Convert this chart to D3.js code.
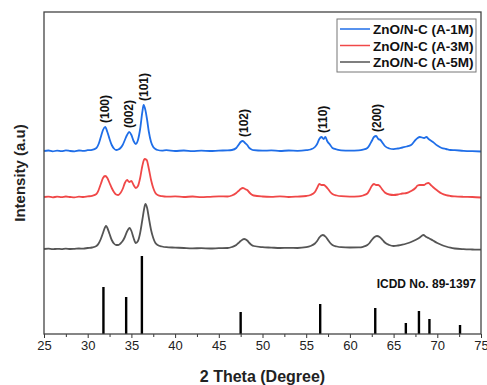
<!DOCTYPE html>
<html>
<head>
<meta charset="utf-8">
<script src="https://cdn.jsdelivr.net/npm/d3@7"></script>
<style>
  body { margin: 0; background: #fff; }
  svg { display: block; font-family: Arial, "Liberation Sans", sans-serif; }
</style>
</head>
<body>
<div id="chart"></div>
<script>
// XRD patterns, [2θ, intensity (a.u., stacked)]
const seriesNames = ["ZnO/N-C (A-1M)", "ZnO/N-C (A-3M)", "ZnO/N-C (A-5M)"];
const seriesColors = ["#1f6ee8", "#f04848", "#555555"];

const a1m = [[25,183],[25.5,183.5],[26,182.6],[26.5,183.4],[27,182.8],[27.5,183.6],[28,183],[28.5,182.7],[29,183.5],[29.5,183.1],[30,183.8],[30.5,184.2],[31,186],[31.25,190],[31.5,197],[31.75,204],[32,207],[32.25,202],[32.5,195],[32.75,189],[33,185.5],[33.25,184],[33.5,184.5],[33.75,186],[34,189],[34.25,194],[34.5,199],[34.75,202],[35,199],[35.25,193],[35.5,190],[35.75,194],[36,205],[36.25,222],[36.4,229],[36.6,224],[36.8,214],[37,202],[37.25,192],[37.5,187],[37.75,185],[38,184],[38.5,183.4],[39,183.8],[40,183],[41,183.5],[42,182.8],[43,183.3],[44,183],[45,183.4],[46,183.6],[46.5,184],[47,186],[47.25,189],[47.5,192],[47.75,193],[48,191],[48.25,189],[48.5,186],[48.75,184.5],[49,183.8],[50,183.3],[51,183.6],[52,183],[53,183.5],[54,183.2],[55,183.8],[55.5,184.5],[56,187],[56.25,190],[56.5,195],[56.75,197],[57,195],[57.2,197],[57.4,193],[57.75,189],[58,186],[58.5,184.5],[59,183.6],[60,183.4],[61,183.6],[61.5,184.3],[62,186],[62.25,189],[62.5,193],[62.75,197],[63,198],[63.25,195],[63.5,194],[63.75,191],[64,188],[64.5,185.5],[65,184.8],[65.5,185.5],[66,186.5],[66.5,187.5],[67,189],[67.5,194],[67.75,196],[68,197],[68.5,196],[68.75,197],[69,195],[69.5,192],[70,188.5],[70.5,186],[71,185],[71.5,184],[72,183.8],[73,183.2],[74,182.8],[75,182.5]];

const a3m = [[25,137],[25.5,137.4],[26,136.7],[26.5,137.3],[27,136.8],[27.5,137.5],[28,137],[28.5,136.6],[29,137.4],[29.5,137],[30,137.6],[30.5,138.2],[31,140],[31.25,144],[31.5,150],[31.75,156],[32,158],[32.25,156],[32.5,151],[32.75,146],[33,142],[33.25,139.5],[33.5,139],[33.75,141],[34,145],[34.25,151],[34.5,154],[34.75,152],[35,153],[35.25,149],[35.5,146],[35.75,148],[36,156],[36.25,168],[36.5,175],[36.75,174],[37,165],[37.25,154],[37.5,146],[37.75,141],[38,139],[38.5,137.8],[39,137.3],[40,137.6],[41,137],[42,137.5],[43,136.8],[44,137.2],[45,137.6],[46,137.5],[46.5,138.5],[47,141],[47.25,143],[47.5,145],[47.75,146],[48,145],[48.25,144],[48.5,141.5],[48.75,139.5],[49,138.5],[50,137.5],[51,137.2],[52,137.6],[53,137],[54,137.4],[55,138],[55.5,139],[56,142],[56.25,146],[56.5,150],[56.75,149],[57,149],[57.25,147.5],[57.5,145],[57.75,142],[58,140],[58.5,138.5],[59,137.8],[60,137.4],[61,137.6],[61.5,138.5],[62,140.5],[62.25,144],[62.5,148],[62.75,150],[63,149],[63.25,149],[63.5,147],[63.75,144],[64,141.5],[64.5,139.5],[65,139],[65.5,139.5],[66,140.5],[66.5,141],[67,143],[67.5,146],[67.75,148.5],[68,149],[68.5,149],[68.75,150.5],[69,151],[69.25,149],[69.5,147],[70,143.5],[70.5,140.5],[71,138.8],[71.5,138],[72,137.6],[73,137.2],[74,137],[75,136.5]];

const a5m = [[25,85],[25.5,85.3],[26,84.8],[26.5,85.2],[27,84.9],[27.5,85.4],[28,85],[28.5,85.2],[29,85.5],[29.5,85.4],[30,86],[30.5,86.5],[31,88],[31.25,90.5],[31.5,95],[31.75,101],[32,107],[32.1,108],[32.25,106],[32.5,100],[32.75,94],[33,90.5],[33.25,89],[33.5,89],[33.75,90.5],[34,93],[34.25,97],[34.5,102.5],[34.8,106],[35,103],[35.25,96],[35.5,91],[35.75,93],[36,101],[36.25,114],[36.5,127],[36.6,130],[36.8,126],[37,116],[37.25,104],[37.5,96],[37.75,91],[38,89],[38.5,87.5],[39,86.8],[40,86.4],[41,86],[42,85.7],[43,85.8],[44,85.5],[45,85.8],[46,86],[46.5,87],[47,89],[47.25,91],[47.5,93],[47.9,95],[48.25,93.5],[48.5,91],[48.75,89],[49,88],[50,86.8],[51,86.4],[52,86],[53,86.2],[54,86],[55,86.8],[55.5,88],[56,90.5],[56.25,93],[56.5,96.5],[56.9,99],[57.25,97],[57.5,94],[57.75,91],[58,89],[58.5,87.5],[59,86.8],[60,86.5],[61,86.6],[61.5,87.2],[62,89],[62.25,91],[62.5,94],[62.75,96.5],[63.1,98],[63.4,97],[63.75,94],[64,91.5],[64.5,89],[65,88],[65.5,88.5],[66,89.3],[66.5,90.5],[67,92],[67.5,94],[68,96.5],[68.4,99],[68.75,97],[69,96],[69.5,93.5],[70,91],[70.5,89],[71,87.5],[71.5,86.3],[72,85.5],[73,84.8],[74,84.5],[75,84.3]];

// ICDD 89-1397 reference lines
const refPos = [31.8, 34.4, 36.2, 47.5, 56.6, 62.9, 66.4, 67.9, 69.1, 72.6];
const refInt = [47, 37, 78, 22, 30, 26, 11, 23, 15, 9];
const refLabel = "ICDD No. 89-1397";

const hkl = ["(100)", "(002)", "(101)", "(102)", "(110)", "(200)"];
const hklPos = [31.9, 34.7, 36.4, 47.8, 56.9, 63.0];

const xTicks = [25, 30, 35, 40, 45, 50, 55, 60, 65, 70, 75];

const W = 487, H = 385;
const margin = { top: 12, right: 6, bottom: 51, left: 44 };
const width = W - margin.left - margin.right;
const height = H - margin.top - margin.bottom;

const svg = d3.select("#chart").append("svg")
  .attr("width", W)
  .attr("height", H);

const g = svg.append("g")
  .attr("transform", "translate(" + margin.left + "," + margin.top + ")");

const x = d3.scaleLinear().domain([25, 75]).range([0, width]);
const y = d3.scaleLinear().domain([0, height]).range([height, 0]);

// minor ticks
g.append("g")
  .attr("transform", "translate(0," + height + ")")
  .call(d3.axisBottom(x).tickValues(d3.range(27.5, 75, 5)).tickSize(3).tickFormat(""))
  .call(a => a.select(".domain").remove())
  .selectAll("line").attr("stroke", "#333");

const xAxis = g.append("g")
  .attr("transform", "translate(0," + height + ")")
  .call(d3.axisBottom(x).tickValues(xTicks).tickSize(4).tickPadding(3));
xAxis.select(".domain").remove();
xAxis.selectAll("line").attr("stroke", "#333");
xAxis.selectAll("text")
  .attr("font-size", 13)
  .attr("fill", "#222")
  .attr("font-family", "Arial, 'Liberation Sans', sans-serif");

// reference sticks
g.selectAll(".stick")
  .data(refPos)
  .enter().append("line")
  .attr("class", "stick")
  .attr("x1", d => x(d)).attr("x2", d => x(d))
  .attr("y1", y(0))
  .attr("y2", (d, i) => y(refInt[i]))
  .attr("stroke", "#000")
  .attr("stroke-width", 2.4);

g.append("text")
  .attr("x", width - 5)
  .attr("y", 276)
  .attr("text-anchor", "end")
  .attr("font-size", 12)
  .attr("font-weight", "bold")
  .attr("fill", "#111")
  .text(refLabel);

const line = d3.line()
  .x(d => x(d[0]))
  .y(d => y(d[1]))
  .curve(d3.curveMonotoneX);

const series = [a5m, a3m, a1m];
const colorsDrawn = [seriesColors[2], seriesColors[1], seriesColors[0]];
series.forEach((s, i) => {
  g.append("path")
    .datum(s)
    .attr("fill", "none")
    .attr("stroke", colorsDrawn[i])
    .attr("stroke-width", 1.8)
    .attr("stroke-linejoin", "round")
    .attr("d", line);
});

// peak labels above the top pattern
hkl.forEach((lab, i) => {
  const near = a1m.filter(d => Math.abs(d[0] - hklPos[i]) <= 0.6);
  const top = d3.max(near, d => d[1]);
  const px = x(hklPos[i]), py = y(top) - 4;
  g.append("text")
    .attr("transform", "translate(" + (px + 4.5) + "," + py + ") rotate(-90)")
    .attr("font-size", 12)
    .attr("font-weight", "bold")
    .attr("fill", "#111")
    .text(lab);
});

// frame
g.append("rect")
  .attr("width", width)
  .attr("height", height)
  .attr("fill", "none")
  .attr("stroke", "#444")
  .attr("stroke-width", 1.3);

// legend
const lg = g.append("g").attr("transform", "translate(" + (337 - margin.left) + "," + (19 - margin.top) + ")");
lg.append("rect")
  .attr("width", 139)
  .attr("height", 53)
  .attr("fill", "#fff")
  .attr("stroke", "#777")
  .attr("stroke-width", 1);
seriesNames.forEach((n, i) => {
  const ly = 10 + i * 16.5;
  lg.append("line")
    .attr("x1", 3).attr("x2", 33)
    .attr("y1", ly).attr("y2", ly)
    .attr("stroke", seriesColors[i])
    .attr("stroke-width", 1.5);
  lg.append("text")
    .attr("x", 36)
    .attr("y", ly + 5)
    .attr("font-size", 13.5)
    .attr("font-weight", "bold")
    .attr("fill", "#111")
    .text(n);
});

// axis titles
svg.append("text")
  .attr("x", margin.left + width / 2)
  .attr("y", 382)
  .attr("text-anchor", "middle")
  .attr("font-size", 16)
  .attr("font-weight", "bold")
  .attr("fill", "#222")
  .text("2 Theta (Degree)");

svg.append("text")
  .attr("transform", "translate(25," + (margin.top + height / 2) + ") rotate(-90)")
  .attr("text-anchor", "middle")
  .attr("font-size", 15)
  .attr("font-weight", "bold")
  .attr("fill", "#222")
  .text("Intensity (a.u)");
</script>
</body>
</html>
